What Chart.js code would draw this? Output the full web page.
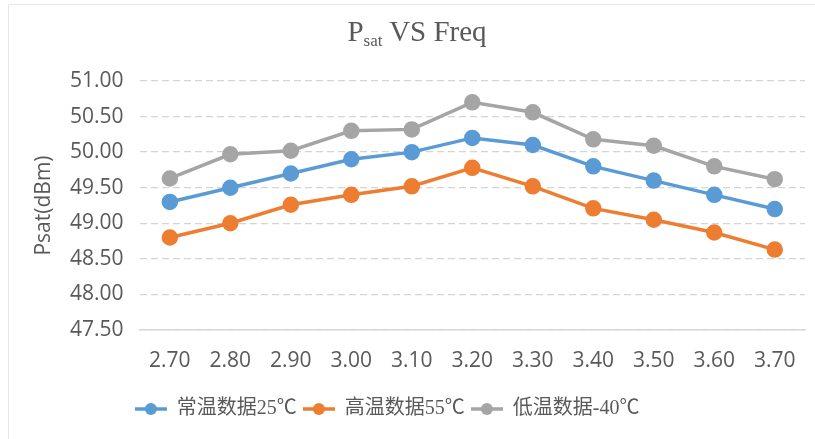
<!DOCTYPE html>
<html><head><meta charset="utf-8">
<script src="https://cdn.jsdelivr.net/npm/chart.js@4/dist/chart.umd.min.js"></script>
<style>
html,body{margin:0;padding:0;background:#fff;}
#wrap{position:relative;width:815px;height:439px;overflow:hidden;}
#frame{position:absolute;left:8px;top:4px;width:900px;height:500px;border-left:1.5px solid #e3e8ee;border-top:1.5px solid #e3e8ee;}
#title{position:absolute;left:0;width:834px;top:14px;text-align:center;font-family:"Liberation Serif","Times New Roman",serif;font-size:29px;color:#595959;line-height:34px;}
#title sub{font-size:17px;vertical-align:-5px;line-height:0;}
canvas{position:absolute;left:0;top:0;}
</style></head>
<body><div id="wrap"><div id="frame"></div><canvas id="c" width="815" height="439"></canvas><div id="title">P<sub>sat</sub> VS Freq</div></div>
<script>
const categories = ["2.70","2.80","2.90","3.00","3.10","3.20","3.30","3.40","3.50","3.60","3.70"];
const normalTemp = [49.30,49.50,49.70,49.90,50.00,50.20,50.10,49.80,49.60,49.40,49.20];
const highTemp   = [48.80,49.00,49.26,49.40,49.52,49.78,49.52,49.21,49.05,48.87,48.63];
const lowTemp    = [49.63,49.97,50.02,50.30,50.32,50.70,50.56,50.18,50.09,49.80,49.62];
const seriesNames = ["常温数据25℃","高温数据55℃","低温数据-40℃"];
const colors = ["#5b9bd5","#ed7d31","#a5a5a5"];
const yMin = 47.5, yMax = 51.0, yStep = 0.5;

function legendIcon(color){
  const c = document.createElement('canvas');
  c.width = 32; c.height = 14;
  const g = c.getContext('2d');
  g.strokeStyle = color; g.lineWidth = 3.5;
  g.beginPath(); g.moveTo(0,7); g.lineTo(32,7); g.stroke();
  g.fillStyle = color; g.beginPath(); g.arc(16,7,6,0,Math.PI*2); g.fill();
  return c;
}
const icons = colors.map(legendIcon);

const mk = (i, data) => ({
  label: seriesNames[i], data,
  borderColor: colors[i], backgroundColor: colors[i],
  pointBackgroundColor: colors[i], pointBorderColor: colors[i],
  borderWidth: 3.5, pointRadius: 6.5, pointHoverRadius: 6.5, tension: 0,
  pointStyle: 'circle'
});

const shiftLegend = {
  id: 'shiftLegend',
  afterLayout(chart) {
    if (chart.legend) { chart.legend.left -= 17; chart.legend.right -= 17; }
  }
};

new Chart(document.getElementById('c'), {
  type: 'line',
  data: { labels: categories, datasets: [mk(0, normalTemp), mk(1, highTemp), mk(2, lowTemp)] },
  plugins: [shiftLegend],
  options: {
    responsive: false, animation: false, devicePixelRatio: 1,
    layout: { padding: { left: 0, right: 6.6, top: 81, bottom: 10 } },
    plugins: {
      title: { display: false },
      tooltip: { enabled: false },
      legend: {
        position: 'bottom',
        labels: {
          usePointStyle: true, pointStyleWidth: 32, boxHeight: 14,
          padding: 6,
          color: '#595959',
          font: { family: '"Liberation Serif","Noto Sans CJK SC",serif', size: 20 },
          generateLabels: chart => chart.data.datasets.map((ds, i) => ({
            text: ds.label, fillStyle: colors[i], strokeStyle: colors[i],
            pointStyle: icons[i], datasetIndex: i, hidden: false, lineWidth: 0,
            fontColor: '#595959'
          }))
        }
      }
    },
    scales: {
      x: {
        offset: true,
        grid: { display: false, drawTicks: false },
        border: { display: true, color: '#d9d9d9', width: 1.5 },
        ticks: { color: '#595959', padding: 18, maxRotation: 0, autoSkip: false,
          font: { family: '"Open Sans","Noto Sans",sans-serif', size: 21 } },
        afterFit: s => { s.height = 63; }
      },
      y: {
        min: yMin, max: yMax,
        grid: { color: '#d4d4d4', lineWidth: 1.3, drawTicks: false },
        border: { display: false, dash: [7,4] },
        ticks: { stepSize: yStep, color: '#595959', padding: 16,
          callback: v => Number(v).toFixed(2),
          font: { family: '"Open Sans","Noto Sans",sans-serif', size: 21 } },
        title: { display: true, text: 'Psat(dBm)', color: '#595959', padding: { top: 31, bottom: 0 },
          font: { family: '"Open Sans","Noto Sans",sans-serif', size: 21 } },
        afterFit: s => { s.width = 139.6; }
      }
    }
  }
});
</script></body></html>
